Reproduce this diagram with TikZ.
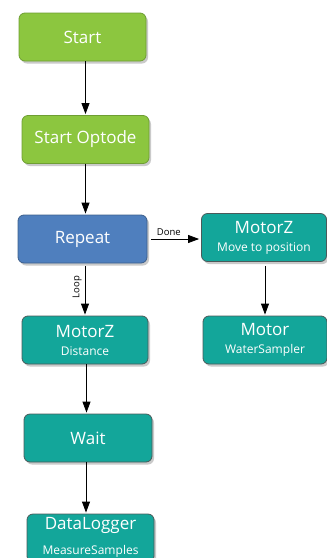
\documentclass[tikz,border=0pt]{standalone}
\usepackage{fontspec}
\setmainfont{Open Sans}
\usetikzlibrary{arrows.meta,shadows,calc}
\definecolor{bgreen}{HTML}{8CC63F}
\definecolor{bgreenline}{HTML}{6E9E33}
\definecolor{bblue}{HTML}{4F7FBE}
\definecolor{bblueline}{HTML}{3C5F8C}
\definecolor{bteal}{HTML}{13A69A}
\definecolor{btealline}{HTML}{4A5A5A}
\tikzset{
  box/.style={draw, line width=0.8pt, rounded corners=6pt, minimum height=48pt,
    text=white, font=\fontsize{17}{19}\selectfont, align=center, inner sep=0pt,
    drop shadow={shadow xshift=2pt, shadow yshift=-2.5pt, opacity=0.35, fill=black!60}},
  greenbox/.style={box, fill=bgreen, draw=bgreenline},
  bluebox/.style={box, fill=bblue, draw=bblueline},
  tealbox/.style={box, fill=bteal, draw=btealline},
  sub/.style={font=\fontsize{12}{14}\selectfont},
  conn/.style={line width=0.8pt, -{Triangle[length=11pt,width=8pt]}, shorten >=1pt},
  lbl/.style={font=\fontsize{9.5}{11}\selectfont, inner sep=0pt}
}
\begin{document}
\begin{tikzpicture}[x=1pt,y=-1pt]
\useasboundingbox (0,0) rectangle (327,558);
\node[greenbox, minimum width=127pt] (start) at (82.5,37) {Start};
\node[greenbox, minimum width=127pt] (optode) at (85.5,139.5) {Start Optode};
\node[bluebox, minimum width=129pt] (repeat) at (82.5,239) {Repeat};
\node[tealbox, minimum width=125pt] (mzmove) at (264,237.5) {MotorZ\\[-1pt]{\fontsize{12}{14}\selectfont Move to position}};
\node[tealbox, minimum width=126pt] (mzdist) at (85,340) {MotorZ\\[-1pt]{\fontsize{12}{14}\selectfont Distance}};
\node[tealbox, minimum width=124pt] (motor) at (265,340) {Motor\\[-1pt]{\fontsize{12}{14}\selectfont WaterSampler}};
\node[tealbox, minimum width=128pt] (wait) at (88,438) {Wait};
\node[tealbox, minimum width=127pt] (datalog) at (90.5,538) {};
\node[text=white, font=\fontsize{17}{19}\selectfont] (dltitle) at (90.5,525) {DataLogger};
\node[text=white, sub] (dlsub) at (90.5,551) {MeasureSamples};

\coordinate (w1) at ($(mzdist.south)+(1.5,0)$);
\coordinate (w2) at (w1 |- wait.north);
\coordinate (d1) at ($(wait.south)+(-2,0)$);
\coordinate (d2) at (d1 |- datalog.north);

\draw[conn] (optode.north |- start.south) -- (optode.north);
\draw[conn] (optode.south) -- (optode.south |- repeat.north);
\draw[conn, shorten <=4pt, shorten >=2pt] (repeat.east) -- (repeat.east -| mzmove.west)
  node[lbl, pos=0.4, above=3pt] (done) {Done};
\draw[conn, shorten <=3pt] (mzdist.north |- repeat.south) -- (mzdist.north)
  node[lbl, pos=0.45, left=3pt, rotate=90, anchor=south] (loop) {Loop};
\draw[conn, shorten <=4pt] (mzmove.south -| motor.north) -- (motor.north);
\draw[conn] (w1) -- (w2);
\draw[conn] (d1) -- (d2);
\end{tikzpicture}
\end{document}
